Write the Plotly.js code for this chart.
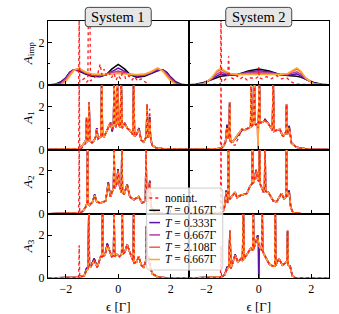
<!DOCTYPE html>
<html><head><meta charset="utf-8">
<script src="https://cdn.plot.ly/plotly-3.0.1.min.js"></script>
<style>html,body{margin:0;padding:0;background:#fff}#plot{width:339px;height:314px}</style>
</head><body><div id="plot"></div>
<script>
// ---------- labels ----------
const systems = ['System 1', 'System 2'];
const rowLabels = ['<i>A</i><sub>imp</sub>', '<i>A</i><sub>1</sub>', '<i>A</i><sub>2</sub>', '<i>A</i><sub>3</sub>'];
const temperatures = ['0.167', '0.333', '0.667', '2.108', '6.667'];
const nonintName = 'nonint.';
const tColors = ['#000000', '#5c10a8', '#b040b0', '#f45a4a', '#ffa830'];
const nonintColor = '#ff1a1a';
const xTicks = [-2, 0, 2];
const yTicks = [0, 2];

// ---------- Row 1: A_imp ----------
const eImp1 = [-2.66,-2.4,-2.2,-2.0,-1.85,-1.7,-1.5,-1.25,-1.0,-0.7,-0.45,-0.25,0,0.25,0.45,0.7,1.0,1.25,1.5,1.7,1.85,2.0,2.2,2.4,2.66];
const imp1_T0167 = [0.01,0.05,0.15,0.35,0.6,0.72,0.66,0.52,0.42,0.4,0.5,0.75,0.97,0.75,0.5,0.38,0.42,0.55,0.68,0.72,0.6,0.38,0.15,0.05,0.01];
const imp1_T0333 = [0.01,0.04,0.12,0.33,0.6,0.72,0.7,0.55,0.45,0.42,0.5,0.65,0.8,0.65,0.5,0.42,0.45,0.56,0.7,0.72,0.58,0.35,0.12,0.04,0.01];
const imp1_T0667 = [0,0.03,0.08,0.3,0.55,0.72,0.74,0.58,0.48,0.45,0.5,0.58,0.66,0.58,0.5,0.45,0.48,0.6,0.75,0.7,0.52,0.3,0.08,0.03,0];
const imp1_T2108 = [0,0.01,0.04,0.22,0.5,0.7,0.78,0.6,0.5,0.48,0.5,0.54,0.58,0.54,0.5,0.48,0.5,0.62,0.79,0.67,0.47,0.25,0.05,0.01,0];
const imp1_T6667 = [0,0,0.02,0.18,0.45,0.68,0.8,0.62,0.52,0.5,0.5,0.52,0.55,0.52,0.5,0.5,0.52,0.63,0.81,0.65,0.42,0.2,0.03,0,0];
const eImp1_nonint = [-2.66,-1.53,-1.51,-1.49,-1.47,-1.42,-1.3,-1.2,-1.16,-1.14,-1.08,-1.06,-1.0,-0.92,-0.79,-0.69,-0.63,-0.54,-0.45,-0.35,-0.26,-0.16,-0.08,0.0,0.09,0.19,0.28,0.4,0.53,0.62,0.74,0.87,1.03,1.16,1.3,2.66];
const imp1_nonint = [0.01,0.01,0.02,3.5,0.15,0.2,0.32,0.15,0.2,3.5,3.5,0.2,0.25,0.35,0.5,0.98,0.5,0.75,0.45,0.6,0.35,0.55,0.25,0.45,0.3,0.7,0.3,0.45,0.25,0.4,0.2,0.3,0.15,0.05,0.02,0.01];

const eImp2 = [-2.66,-2.4,-2.1,-1.8,-1.6,-1.45,-1.3,-1.1,-0.8,-0.4,0,0.4,0.8,1.1,1.3,1.45,1.6,1.8,2.1,2.4,2.66];
const imp2_T0167 = [0.02,0.05,0.13,0.27,0.36,0.42,0.44,0.45,0.5,0.67,0.76,0.67,0.5,0.45,0.44,0.42,0.38,0.27,0.13,0.05,0.02];
const imp2_T0333 = [0.01,0.03,0.1,0.28,0.42,0.52,0.5,0.47,0.5,0.62,0.68,0.62,0.5,0.47,0.5,0.53,0.44,0.27,0.1,0.03,0.01];
const imp2_T0667 = [0,0.02,0.08,0.3,0.52,0.62,0.56,0.5,0.5,0.58,0.62,0.58,0.5,0.5,0.57,0.63,0.52,0.3,0.08,0.02,0];
const imp2_T2108 = [0,0.01,0.07,0.33,0.62,0.74,0.64,0.53,0.5,0.54,0.56,0.54,0.5,0.53,0.65,0.75,0.62,0.33,0.07,0.01,0];
const imp2_T6667 = [0,0.01,0.06,0.35,0.68,0.8,0.68,0.55,0.5,0.5,0.5,0.5,0.5,0.55,0.68,0.81,0.66,0.33,0.06,0.01,0];
const eImp2_nonint = [-2.66,-1.48,-1.46,-1.44,-1.42,-1.35,-1.25,-1.18,-1.15,-1.12,-1.05,-0.96,-0.84,-0.71,-0.58,-0.45,-0.3,-0.14,-0.02,0.0,0.02,0.12,0.3,0.48,0.68,0.86,1.06,1.25,1.44,2.66];
const imp2_nonint = [0.01,0.02,0.05,3.5,0.15,0.2,0.3,0.5,1.35,0.4,0.35,0.3,0.45,0.3,0.4,0.25,0.35,0.3,0.4,0.85,0.35,0.3,0.4,0.3,0.45,0.3,0.35,0.15,0.05,0.01];

// ---------- Row 2: A_1 ----------
const eA1_1 = [-2.66,-1.8,-1.6,-1.51,-1.49,-1.47,-1.4,-1.3,-1.23,-1.21,-1.18,-1.13,-1.11,-1.08,-1.0,-0.92,-0.86,-0.82,-0.77,-0.66,-0.63,-0.6,-0.54,-0.44,-0.35,-0.29,-0.23,-0.18,-0.16,-0.13,-0.08,-0.04,0.0,0.04,0.08,0.11,0.15,0.25,0.34,0.44,0.56,0.59,0.62,0.7,0.79,0.87,0.97,1.07,1.1,1.13,1.17,1.2,1.23,1.29,1.45,1.7,2.1,2.66];
const A1_1_cold = [0,0.01,0.03,0.05,0.06,0.07,0.12,0.3,0.45,1.4,0.35,0.6,2.2,0.4,0.32,0.42,0.6,1.0,0.5,0.6,3.5,0.65,0.6,0.85,1.15,1.26,0.85,1.2,3.5,1.15,1.05,3.5,1.2,1.1,1.05,3.5,1.0,1.24,1.0,0.9,0.7,3.5,0.62,0.7,1.0,0.45,0.35,0.6,2.1,0.55,0.8,1.5,0.6,0.2,0.08,0.03,0.01,0];
const A1_1_hot = [0,0.01,0.03,0.05,0.06,0.07,0.12,0.3,0.45,1.5,0.35,0.6,2.2,0.4,0.32,0.42,0.6,0.95,0.5,0.6,3.5,0.65,0.6,0.85,1.15,1.2,0.95,1.2,3.5,1.15,1.05,3.5,1.2,1.1,1.05,3.5,1.0,1.2,1.0,0.9,0.7,3.5,0.62,0.7,0.95,0.45,0.35,0.6,2.1,0.55,0.8,1.4,0.6,0.2,0.08,0.03,0.01,0];
const A1_1_nonint = [0,0.01,0.03,0.02,3.5,0.02,0.05,0.2,0.3,1.5,0.35,0.6,2.2,0.4,0.32,0.42,0.6,0.95,0.5,0.6,3.5,0.65,0.6,0.85,1.15,1.2,0.95,1.2,3.5,1.15,1.05,3.5,1.2,1.1,1.05,3.5,1.0,1.2,1.0,0.9,0.7,3.5,0.62,0.7,0.95,0.45,0.35,0.6,2.1,0.55,0.8,1.9,0.6,0.2,0.08,0.03,0.01,0];

const eA1_2 = [-2.66,-1.9,-1.6,-1.46,-1.44,-1.42,-1.35,-1.27,-1.21,-1.16,-1.13,-1.11,-1.08,-1.0,-0.9,-0.77,-0.64,-0.55,-0.45,-0.35,-0.31,-0.29,-0.26,-0.2,-0.16,-0.14,-0.11,-0.05,-0.03,-0.01,0.02,0.05,0.08,0.18,0.24,0.37,0.52,0.55,0.58,0.68,0.81,0.93,1.03,1.06,1.09,1.16,1.25,1.44,1.9,2.66];
const A1_2_cold = [0,0.01,0.04,0.06,0.07,0.08,0.15,0.35,1.15,0.5,0.7,2.2,0.4,0.35,0.5,0.75,0.9,0.9,0.95,1.0,1.05,3.5,1.1,1.2,3.5,1.2,1.15,1.2,1.1,1.2,3.5,1.25,1.25,1.3,1.4,1.2,0.9,3.5,0.85,0.9,0.9,0.6,0.8,2.1,0.7,1.1,0.3,0.1,0.01,0];
const A1_2_hot = [0,0.01,0.04,0.06,0.07,0.08,0.15,0.35,1.0,0.5,0.7,2.2,0.4,0.35,0.5,0.75,0.95,0.9,0.95,1.0,1.05,3.5,1.1,1.2,3.5,1.2,1.15,1.2,0.0,1.2,3.5,1.25,1.25,1.3,1.35,1.2,0.9,3.5,0.85,0.9,0.95,0.6,0.8,2.1,0.7,1.0,0.3,0.1,0.01,0];
const A1_2_nonint = [0,0.01,0.04,0.02,3.5,0.02,0.15,0.35,1.0,0.5,0.7,2.2,0.4,0.2,0.2,0.55,0.95,0.9,0.95,1.0,1.05,3.5,1.1,1.2,3.5,1.2,1.15,1.2,1.0,1.2,3.5,1.25,1.25,1.3,1.35,1.2,0.9,3.5,0.85,0.9,0.95,0.6,0.8,2.1,0.7,1.0,0.3,0.1,0.01,0];

// ---------- Row 3: A_2 ----------
const eA2_1 = [-2.66,-1.8,-1.6,-1.51,-1.49,-1.47,-1.35,-1.25,-1.19,-1.17,-1.15,-1.1,-0.98,-0.9,-0.82,-0.67,-0.48,-0.38,-0.3,-0.18,-0.16,-0.14,-0.06,-0.01,0.05,0.12,0.14,0.16,0.22,0.34,0.44,0.59,0.78,0.91,1.04,1.06,1.08,1.14,1.2,1.26,1.41,1.7,2.66];
const A2_1_cold = [0,0.01,0.03,0.05,0.05,0.06,0.12,0.3,0.5,3.5,0.5,0.4,0.55,0.9,0.55,0.5,0.6,1.46,0.8,1.2,3.5,1.2,1.4,2.09,1.3,1.0,3.5,1.0,0.9,1.38,0.8,0.65,0.8,0.5,0.6,3.5,0.6,0.6,1.54,0.3,0.05,0.01,0];
const A2_1_hot = [0,0.01,0.03,0.05,0.05,0.06,0.12,0.3,0.5,3.5,0.5,0.4,0.55,0.85,0.55,0.5,0.6,1.4,0.8,1.2,3.5,1.2,1.4,2.0,1.3,1.0,3.5,1.0,0.9,1.35,0.8,0.65,0.8,0.5,0.6,3.5,0.6,0.6,1.45,0.3,0.05,0.01,0];
const A2_1_nonint = [0,0.01,0.03,0.02,3.5,0.02,0.12,0.3,0.5,3.5,0.5,0.4,0.55,0.85,0.55,0.5,0.6,1.4,0.8,1.2,3.5,1.2,1.4,2.0,1.3,1.0,3.5,1.0,0.9,1.35,0.8,0.65,0.8,0.5,0.6,3.5,0.6,0.6,1.54,0.3,0.05,0.01,0];

const eA2_2 = [-2.66,-1.9,-1.6,-1.46,-1.44,-1.42,-1.32,-1.24,-1.19,-1.16,-1.14,-1.1,-0.9,-0.83,-0.71,-0.58,-0.45,-0.33,-0.26,-0.24,-0.22,-0.18,-0.1,-0.04,0.01,0.03,0.05,0.12,0.18,0.22,0.24,0.26,0.37,0.55,0.68,0.87,0.96,1.04,1.06,1.08,1.16,1.22,1.31,1.6,2.66];
const A2_2_cold = [0,0.01,0.04,0.06,0.06,0.07,0.2,1.08,0.5,3.5,0.8,0.7,1.0,0.75,0.85,0.9,0.95,1.3,1.4,3.5,1.4,1.5,2.05,1.6,1.5,3.5,1.4,1.2,1.0,1.1,3.5,1.05,1.0,0.6,0.55,0.95,0.7,0.8,3.5,0.8,1.08,0.3,0.05,0.01,0];
const A2_2_hot = [0,0.01,0.04,0.06,0.06,0.07,0.2,1.0,0.5,3.5,0.8,0.7,1.0,0.75,0.85,0.9,0.95,1.3,1.4,3.5,1.4,1.5,2.0,1.6,1.5,3.5,1.4,1.2,1.0,1.1,3.5,1.05,1.0,0.6,0.55,0.95,0.7,0.8,3.5,0.8,1.0,0.3,0.05,0.01,0];
const A2_2_nonint = [0,0.01,0.04,0.02,3.5,0.02,0.2,1.0,0.5,3.5,0.8,0.7,1.0,0.75,0.85,0.9,0.95,1.3,1.4,3.5,1.4,1.5,2.0,1.6,1.5,3.5,1.4,1.2,1.0,1.1,3.5,1.05,1.0,0.6,0.55,0.95,0.7,0.8,3.5,0.8,1.0,0.3,0.05,0.01,0];

// ---------- Row 4: A_3 ----------
const eA3_1 = [-2.66,-1.8,-1.6,-1.51,-1.49,-1.47,-1.3,-1.21,-1.15,-1.12,-1.1,-1.06,-0.92,-0.8,-0.67,-0.62,-0.6,-0.58,-0.5,-0.42,-0.34,-0.25,-0.18,-0.16,-0.14,-0.05,0.05,0.13,0.15,0.17,0.25,0.34,0.44,0.57,0.59,0.61,0.7,0.78,0.88,0.97,1.05,1.07,1.09,1.15,1.22,1.3,1.5,1.8,2.66];
const A3_1_cold = [0,0.01,0.03,0.05,0.06,0.07,0.1,0.45,0.4,3.5,0.5,0.5,0.91,0.5,1.0,1.0,3.5,1.0,1.1,1.61,1.3,1.0,1.05,3.5,1.0,1.1,1.0,1.1,3.5,1.1,1.2,1.58,1.2,0.8,3.5,0.7,0.75,1.0,0.6,0.5,0.8,2.4,0.8,1.0,0.5,0.2,0.05,0.01,0];
const A3_1_hot = [0,0.01,0.03,0.05,0.06,0.07,0.1,0.35,0.4,3.5,0.5,0.5,0.8,0.5,1.0,1.0,3.5,1.0,1.1,1.5,1.3,1.0,1.05,3.5,1.0,1.1,1.0,1.1,3.5,1.1,1.2,1.55,1.2,0.8,3.5,0.7,0.75,1.0,0.6,0.5,0.8,2.4,0.8,1.0,0.5,0.2,0.05,0.01,0];
const A3_1_nonint = [0,0.01,0.03,0.02,1.53,0.02,0.1,0.35,0.4,3.5,0.5,0.5,0.8,0.5,1.0,1.0,3.5,1.0,1.1,1.5,1.3,1.0,1.05,3.5,1.0,1.1,1.0,1.1,3.5,1.1,1.2,1.55,1.2,0.8,3.5,0.7,0.75,1.0,0.6,0.5,0.8,2.4,0.8,1.0,0.5,0.2,0.05,0.01,0];

const eA3_2 = [-2.66,-1.9,-1.6,-1.46,-1.44,-1.42,-1.3,-1.21,-1.14,-1.1,-1.06,-0.9,-0.8,-0.68,-0.62,-0.59,-0.56,-0.45,-0.3,-0.23,-0.21,-0.19,-0.12,-0.04,-0.01,0.0,0.01,0.06,0.11,0.13,0.15,0.25,0.4,0.55,0.61,0.63,0.65,0.77,0.9,1.02,1.08,1.1,1.12,1.2,1.28,1.38,1.7,2.66];
const A3_2_cold = [0,0.01,0.03,0.05,0.05,0.06,0.15,0.5,0.5,2.2,0.45,1.1,0.75,0.9,0.8,3.5,0.9,1.1,1.4,1.3,3.5,1.35,1.7,2.0,1.6,0.0,1.5,1.4,1.3,3.5,1.25,1.0,0.65,0.55,0.55,3.5,0.6,0.9,0.6,0.7,0.8,2.2,0.6,0.55,0.1,0.02,0.01,0];
const A3_2_hot = [0,0.01,0.03,0.05,0.05,0.06,0.15,0.4,0.5,2.2,0.45,1.05,0.75,0.9,0.8,3.5,0.9,1.1,1.4,1.3,3.5,1.35,1.7,1.9,1.6,1.5,1.5,1.4,1.3,3.5,1.25,1.0,0.65,0.55,0.55,3.5,0.6,0.9,0.6,0.7,0.8,2.2,0.6,0.5,0.1,0.02,0.01,0];
const A3_2_nonint = [0,0.01,0.03,0.02,1.5,0.02,0.15,0.4,0.5,2.2,0.45,1.05,0.75,0.9,0.8,3.5,0.9,1.1,1.4,1.3,3.5,1.35,1.7,1.9,1.6,1.5,1.5,1.4,1.3,3.5,1.25,1.0,0.65,0.55,0.55,3.5,0.6,0.9,0.6,0.7,0.8,2.2,0.6,0.5,0.1,0.02,0.01,0];

// ---------- panels: [T-series x, [5 T series], nonint x, nonint y] ----------
const panels = [
  [eImp1, [imp1_T0167, imp1_T0333, imp1_T0667, imp1_T2108, imp1_T6667], eImp1_nonint, imp1_nonint],
  [eImp2, [imp2_T0167, imp2_T0333, imp2_T0667, imp2_T2108, imp2_T6667], eImp2_nonint, imp2_nonint],
  [eA1_1, [A1_1_cold, A1_1_cold, A1_1_hot, A1_1_hot, A1_1_hot], eA1_1, A1_1_nonint],
  [eA1_2, [A1_2_cold, A1_2_cold, A1_2_hot, A1_2_hot, A1_2_hot], eA1_2, A1_2_nonint],
  [eA2_1, [A2_1_cold, A2_1_cold, A2_1_hot, A2_1_hot, A2_1_hot], eA2_1, A2_1_nonint],
  [eA2_2, [A2_2_cold, A2_2_cold, A2_2_hot, A2_2_hot, A2_2_hot], eA2_2, A2_2_nonint],
  [eA3_1, [A3_1_cold, A3_1_cold, A3_1_hot, A3_1_hot, A3_1_hot], eA3_1, A3_1_nonint],
  [eA3_2, [A3_2_cold, A3_2_cold, A3_2_hot, A3_2_hot, A3_2_hot], eA3_2, A3_2_nonint],
];

const FONT = 'Liberation Serif, Times New Roman, serif';
const traces = [];
const layout = {
  width: 339, height: 314,
  margin: {l: 48, r: 10, t: 21, b: 36},
  paper_bgcolor: '#ffffff', plot_bgcolor: '#ffffff',
  showlegend: false,
  font: {family: FONT, size: 11, color: '#000'},
  shapes: [], annotations: []
};

panels.forEach((p, i) => {
  const k = i + 1;
  const sfx = k === 1 ? '' : String(k);
  const row = Math.floor(i / 2), col = i % 2;
  const [xT, ysT, xN, yN] = p;
  ysT.forEach((y, j) => {
    if (y.length !== xT.length) throw new Error('length mismatch panel ' + k + ' series ' + j + ': ' + y.length + ' vs ' + xT.length);
    traces.push({x: xT, y: y, type: 'scatter', mode: 'lines', xaxis: 'x' + sfx, yaxis: 'y' + sfx,
      name: 'T = ' + temperatures[j] + 'Γ', line: {color: tColors[j], width: 1.5}, hoverinfo: 'skip'});
  });
  if (yN.length !== xN.length) throw new Error('length mismatch nonint panel ' + k);
  traces.push({x: xN, y: yN, type: 'scatter', mode: 'lines', xaxis: 'x' + sfx, yaxis: 'y' + sfx,
    name: nonintName, line: {color: nonintColor, width: 1.3, dash: '3px,3px'}, hoverinfo: 'skip'});

  const xa = {
    domain: col === 0 ? [0, 0.5] : [0.5, 1], anchor: 'y' + sfx,
    range: [-2.68, 2.68], tickmode: 'array', tickvals: xTicks,
    ticks: 'inside', ticklen: 4, tickwidth: 1, tickcolor: '#000',
    showticklabels: row === 3, tickfont: {family: FONT, size: 12},
    showline: true, mirror: true, linecolor: '#000', linewidth: 1,
    showgrid: false, zeroline: false
  };
  if (row === 3) xa.title = {text: 'ϵ [Γ]', font: {family: FONT, size: 13}, standoff: 12};
  layout['xaxis' + sfx] = xa;
  const ya = {
    domain: [1 - (row + 1) / 4, 1 - row / 4], anchor: 'x' + sfx,
    range: [0, 3], tickmode: 'array', tickvals: yTicks,
    ticks: 'inside', ticklen: 4, tickwidth: 1, tickcolor: '#000',
    minor: {tickmode: 'array', tickvals: [1], ticks: 'inside', ticklen: 2, tickcolor: '#000'},
    showticklabels: col === 0, tickfont: {family: FONT, size: 12},
    showline: true, mirror: true, linecolor: '#000', linewidth: 1,
    showgrid: false, zeroline: false
  };
  if (col === 0) ya.title = {text: rowLabels[row], font: {family: FONT, size: 13}, standoff: 3};
  layout['yaxis' + sfx] = ya;
});

// ---------- rounded boxes (titles + legend) ----------
function roundRect(x0, x1, y0, y1, rx, ry) {
  return `M ${x0 + rx},${y1} L ${x1 - rx},${y1} Q ${x1},${y1} ${x1},${y1 - ry} L ${x1},${y0 + ry} Q ${x1},${y0} ${x1 - rx},${y0} L ${x0 + rx},${y0} Q ${x0},${y0} ${x0},${y0 + ry} L ${x0},${y1 - ry} Q ${x0},${y1} ${x0 + rx},${y1} Z`;
}
const RX = 3 / 281, RY = 3 / 257;
[0.25, 0.75].forEach((cx, i) => {
  layout.shapes.push({type: 'path', xref: 'paper', yref: 'paper',
    path: roundRect(cx - 0.1174, cx + 0.1174, 0.978, 1.053, RX, RY),
    fillcolor: '#e6e6e6', line: {color: '#444', width: 1}, layer: 'above'});
  layout.annotations.push({xref: 'paper', yref: 'paper', x: cx, y: 1.0155, xanchor: 'center', yanchor: 'middle',
    text: systems[i], showarrow: false, font: {family: FONT, size: 14.5, color: '#000'}});
});

// legend box
layout.shapes.push({type: 'path', xref: 'paper', yref: 'paper',
  path: roundRect(0.351, 0.622, 0.031, 0.350, RX, RY),
  fillcolor: 'rgba(255,255,255,0.8)', line: {color: '#cccccc', width: 1}, layer: 'above'});
const legendNames = [nonintName].concat(temperatures.map(t => '<i>T</i> = ' + t + 'Γ'));
const legendColors = [nonintColor].concat(tColors);
const legendY = [0.3113, 0.2634, 0.2156, 0.1677, 0.1198, 0.0720];
legendNames.forEach((nm, j) => {
  layout.shapes.push({type: 'line', xref: 'paper', yref: 'paper', x0: 0.3605, x1: 0.3986, y0: legendY[j], y1: legendY[j],
    line: {color: legendColors[j], width: 1.5, dash: j === 0 ? '3px,3px' : 'solid'}, layer: 'above'});
  layout.annotations.push({xref: 'paper', yref: 'paper', x: 0.4103, y: legendY[j], xanchor: 'left', yanchor: 'middle',
    text: nm, showarrow: false, font: {family: FONT, size: 11.5, color: '#000'}});
});

Plotly.newPlot('plot', traces, layout, {staticPlot: true, displayModeBar: false});
</script>
</body></html>
